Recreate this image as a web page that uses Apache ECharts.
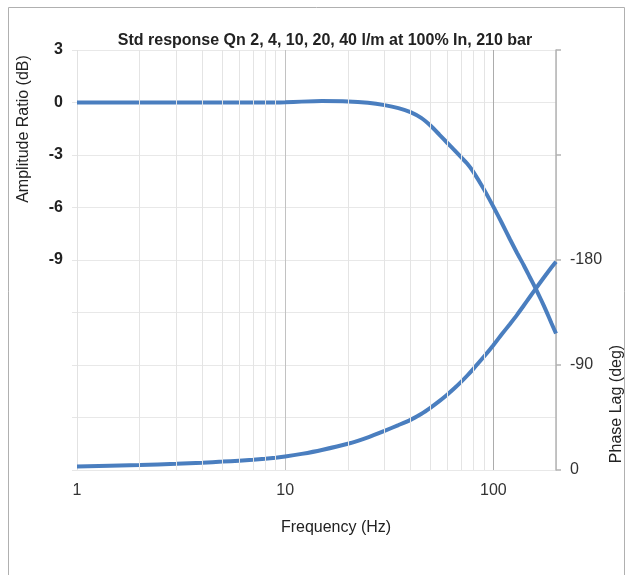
<!DOCTYPE html>
<html>
<head>
<meta charset="utf-8">
<script src="https://cdn.jsdelivr.net/npm/echarts@6/dist/echarts.min.js"></script>
<style>
  html, body { margin: 0; padding: 0; background: #fff; }
  #chart { width: 629px; height: 575px; }
</style>
</head>
<body>
<div id="chart"></div>
<script>
// Frequency response of the valve: amplitude ratio and phase lag vs frequency
const freqHz = [1, 2, 3, 4, 5, 6, 7, 8, 9, 10, 12, 15, 20, 25, 30, 35, 40, 45, 50, 55,
                60, 65, 70, 75, 80, 90, 100, 110, 120, 130, 140, 150, 160, 170, 180, 190, 200];
const amplitudeDb = [0, 0, 0, 0, 0, 0, 0, 0, 0, 0.01, 0.05, 0.08, 0.06, -0.02, -0.15, -0.32, -0.55, -0.88, -1.33, -1.83,
                     -2.3, -2.72, -3.12, -3.5, -3.95, -4.95, -5.95, -6.9, -7.8, -8.6, -9.3, -10.0, -10.65, -11.3, -11.95, -12.6, -13.2];
const phaseDeg = [-2.9, -4.3, -5.3, -6.3, -7.2, -8.0, -8.7, -9.6, -10.5, -11.5, -13.8, -17.2, -22.5, -28, -33.5, -38.5, -43, -48, -53.5, -59,
                  -64.5, -70, -75.5, -81, -86.5, -97, -107, -116.5, -125, -133, -141, -148.5, -155.5, -162, -168, -173.5, -178.5];

// Minor log-decade grid positions
const minorGridHz = [2, 3, 4, 5, 6, 7, 8, 9, 20, 30, 40, 50, 60, 70, 80, 90];

const ampTicksShown = [3, 0, -3, -6, -9];
const phaseTicksShown = [0, -90, -180];

const titleText = 'Std response Qn 2, 4, 10, 20, 40 l/m at 100% In, 210 bar';
const xName = 'Frequency (Hz)';
const yLeftName = 'Amplitude Ratio (dB)';
const yRightName = 'Phase Lag (deg)';

const FONT = '"Liberation Sans", Arial, sans-serif';
const LINE_COLOR = '#4a7ebf';

const chart = echarts.init(document.getElementById('chart'), null, { renderer: 'canvas' });

chart.setOption({
  animation: false,
  backgroundColor: '#fff',
  textStyle: { fontFamily: FONT },
  title: {
    text: titleText,
    left: 320, top: 28, textAlign: 'center',
    textStyle: { fontFamily: FONT, fontSize: 16, fontWeight: 'bold', color: '#222' }
  },
  grid: { left: 77, right: 73, top: 50, bottom: 105, containLabel: false },
  xAxis: {
    type: 'log', logBase: 10, min: 1, max: 200,
    axisLine: { show: false },
    axisTick: { show: false },
    axisLabel: {
      fontFamily: FONT, fontSize: 16, color: '#333', margin: 13,
      showMaxLabel: false,
      formatter: v => ([1, 10, 100].includes(v) ? String(v) : '')
    },
    splitLine: { show: true, lineStyle: { color: ['#e2e2e2', '#c2c2c2', '#acacac'], width: 1 } },
    minorTick: { show: false },
    minorSplitLine: { show: false }
  },
  yAxis: [
    {
      type: 'value', min: -21, max: 3, interval: 3, position: 'left',
      axisLine: { show: false },
      axisTick: { show: true, length: 5, lineStyle: { color: '#e6e6e6' } },
      axisLabel: {
        fontFamily: FONT, fontSize: 16, fontWeight: 'bold', color: '#222', margin: 14,
        formatter: v => (ampTicksShown.includes(v) ? String(v) : '')
      },
      splitLine: { show: true, lineStyle: { color: '#e8e8e8', width: 1 } }
    },
    {
      type: 'value', min: -360, max: 0, interval: 90, inverse: true, position: 'right',
      axisLine: { show: true, lineStyle: { color: '#b3b3b3', width: 1.5 } },
      axisTick: { show: true, inside: false, length: 5, lineStyle: { color: '#b3b3b3', width: 1.5 } },
      axisLabel: {
        fontFamily: FONT, fontSize: 16, color: '#333', margin: 14,
        formatter: v => (phaseTicksShown.includes(v) ? String(v) : '')
      },
      splitLine: { show: false }
    }
  ],
  graphic: [
    {
      type: 'rect', silent: true, z: -1,
      shape: { x: 8.5, y: 7.5, width: 616, height: 580 },
      style: { fill: 'none', stroke: '#b0b0b0', lineWidth: 1 }
    },
    {
      type: 'text', x: 24, y: 129, rotation: Math.PI / 2,
      style: { text: yLeftName, fontFamily: FONT, fontSize: 16, fill: '#222', align: 'center', verticalAlign: 'middle' }
    },
    {
      type: 'text', x: 617, y: 404, rotation: Math.PI / 2,
      style: { text: yRightName, fontFamily: FONT, fontSize: 16, fill: '#222', align: 'center', verticalAlign: 'middle' }
    },
    {
      type: 'text', x: 336, y: 528,
      style: { text: xName, fontFamily: FONT, fontSize: 16, fill: '#222', align: 'center', verticalAlign: 'middle' }
    }
  ],
  series: [
    {
      name: 'grid',
      type: 'line', data: [], z: 1, silent: true,
      markLine: {
        silent: true, symbol: ['none', 'none'], animation: false,
        label: { show: false },
        lineStyle: { type: 'solid', color: '#e4e4e4', width: 1 },
        data: minorGridHz.map(f => ({ xAxis: f }))
      }
    },
    {
      name: 'Amplitude', type: 'line', yAxisIndex: 0, z: 3,
      data: freqHz.map((f, i) => [f, amplitudeDb[i]]),
      showSymbol: false, smooth: 0.2,
      lineStyle: { color: LINE_COLOR, width: 4 }
    },
    {
      name: 'Phase', type: 'line', yAxisIndex: 1, z: 3,
      data: freqHz.map((f, i) => [f, phaseDeg[i]]),
      showSymbol: false, smooth: 0.2,
      lineStyle: { color: LINE_COLOR, width: 4 }
    }
  ]
});
</script>
</body>
</html>
